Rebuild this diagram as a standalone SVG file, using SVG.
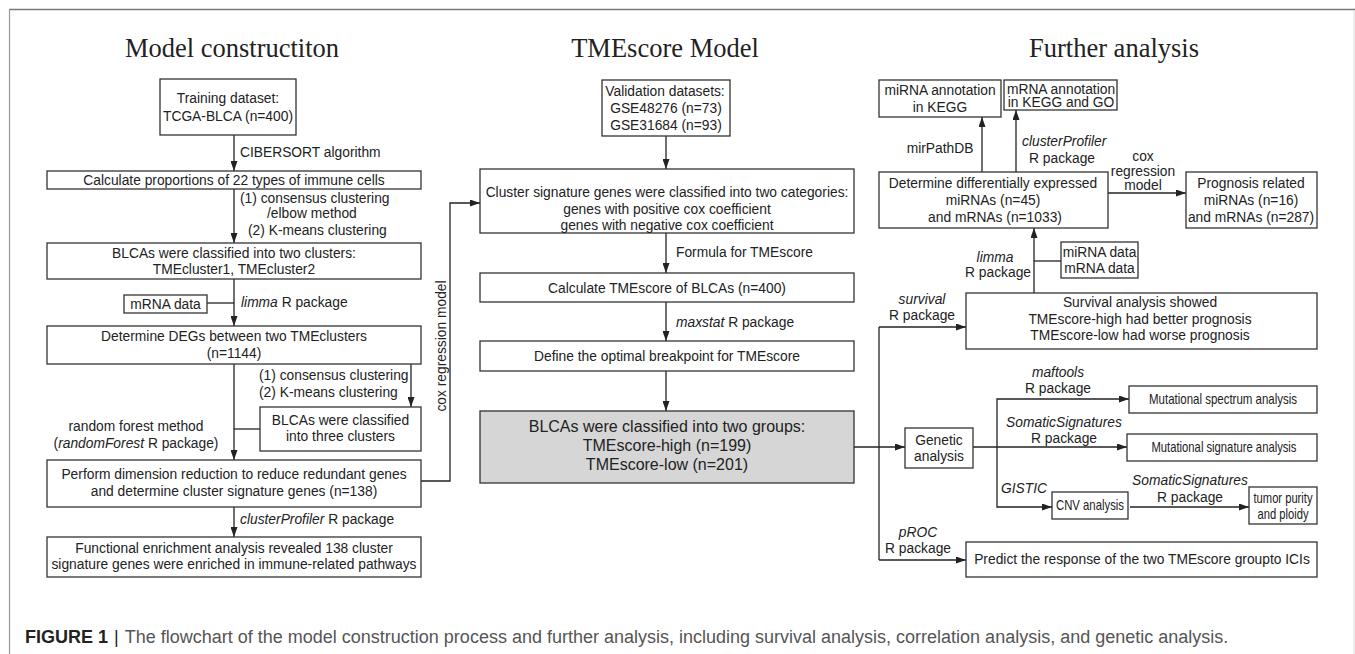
<svg xmlns="http://www.w3.org/2000/svg" width="1355" height="654" viewBox="0 0 1355 654">
<defs>
<marker id="ah" markerWidth="10" markerHeight="7" refX="10" refY="3.5" orient="auto" markerUnits="userSpaceOnUse">
<path d="M0,0 L10,3.5 L0,7 z" fill="#222"/>
</marker>
<style>
.box{fill:#fff;stroke:#333;stroke-width:1.3}
.gbox{fill:#d6d6d6;stroke:#333;stroke-width:1.3}
.t{font-family:"Liberation Sans",Arial,sans-serif;font-size:13.8px;fill:#222;text-anchor:middle}
.tl{font-family:"Liberation Sans",Arial,sans-serif;font-size:13.8px;fill:#222}
.i{font-style:italic}
.nar{font-family:"Liberation Sans Narrow","Liberation Sans",Arial,sans-serif;font-size:14.5px;fill:#222;text-anchor:middle}
.big{font-family:"Liberation Sans",Arial,sans-serif;font-size:16px;fill:#222;text-anchor:middle}
.ttl{font-family:"Liberation Serif","Times New Roman",serif;font-size:26.5px;fill:#222;text-anchor:middle}
.c{fill:none;stroke:#222;stroke-width:1.3}
.a{fill:none;stroke:#222;stroke-width:1.3;marker-end:url(#ah)}
.cap{font-family:"Liberation Sans",Arial,sans-serif;font-size:18px;fill:#555}
</style>
</defs>
<rect width="1355" height="654" fill="#fff"/>
<line x1="9" y1="9.5" x2="1355" y2="9.5" stroke="#777" stroke-width="1.5"/>
<line x1="9.5" y1="9" x2="9.5" y2="654" stroke="#999" stroke-width="1.2"/>
<line x1="1354" y1="10" x2="1354" y2="654" stroke="#ddd" stroke-width="1"/>

<text class="ttl" x="232" y="57">Model constructiton</text>
<text class="ttl" x="665" y="57">TMEscore Model</text>
<text class="ttl" x="1114" y="57">Further analysis</text>

<g id="connectors">
<path class="a" d="M234,135 V171"/>
<path class="a" d="M234,189 V243"/>
<path class="a" d="M234,279 V326"/>
<path class="c" d="M207,303 H234"/>
<path class="a" d="M234,364 V460"/>
<path class="a" d="M411,364 V407"/>
<path class="c" d="M260,429 H234"/>
<path class="a" d="M234,507 V537"/>
<path class="a" d="M421,481 H450 V203 H480"/>
<path class="a" d="M666,136 V169"/>
<path class="a" d="M666,233 V273"/>
<path class="a" d="M666,302 V341"/>
<path class="a" d="M666,371 V411"/>
<path class="a" d="M854,447 H905"/>
<path class="c" d="M879,327 V560"/>
<path class="a" d="M879,327 H966"/>
<path class="a" d="M879,560 H966"/>
<path class="a" d="M973,447 H1127"/>
<path class="a" d="M997,447 V399 H1129"/>
<path class="a" d="M997,447 V507 H1052"/>
<path class="a" d="M1130,507 H1249"/>
<path class="a" d="M1034,293 V228"/>
<path class="c" d="M1061,261 H1034"/>
<path class="a" d="M982,172 V117"/>
<path class="a" d="M1016,172 V110"/>
<path class="a" d="M1108,193 H1186"/>
</g>

<g id="labels">
<text class="tl" x="240" y="157">CIBERSORT algorithm</text>
<text class="tl" x="240" y="203">(1) consensus clustering</text>
<text class="tl" x="267" y="218">/elbow method</text>
<text class="tl" x="248" y="235">(2) K-means clustering</text>
<text class="tl" x="241" y="307"><tspan class="i">limma</tspan> R package</text>
<text class="tl" x="259" y="380">(1) consensus clustering</text>
<text class="tl" x="259" y="397">(2) K-means clustering</text>
<text class="t" x="136" y="431">random forest method</text>
<text class="t" x="136" y="448">(<tspan class="i">randomForest</tspan> R package)</text>
<text class="tl" x="240" y="524"><tspan class="i">clusterProfiler</tspan> R package</text>
<text class="t" transform="translate(446,346) rotate(-90)" x="0" y="0">cox regression model</text>
<text class="tl" x="676" y="257">Formula for TMEscore</text>
<text class="tl" x="676" y="327"><tspan class="i">maxstat</tspan> R package</text>
<text class="t" x="940" y="153">mirPathDB</text>
<text class="tl i" x="1022" y="146">clusterProfiler</text>
<text class="t" x="1062" y="163">R package</text>
<text class="t" x="1143" y="161">cox</text>
<text class="t" x="1143" y="176">regression</text>
<text class="t" x="1143" y="190">model</text>
<text class="t i" x="995" y="262">limma</text>
<text class="t" x="998" y="277">R package</text>
<text class="t i" x="922" y="304">survival</text>
<text class="t" x="922" y="320">R package</text>
<text class="t i" x="1058" y="377">maftools</text>
<text class="t" x="1058" y="393">R package</text>
<text class="t i" x="1064" y="427">SomaticSignatures</text>
<text class="t" x="1064" y="443">R package</text>
<text class="tl i" x="1001" y="493">GISTIC</text>
<text class="t i" x="1190" y="485">SomaticSignatures</text>
<text class="t" x="1190" y="502">R package</text>
<text class="t i" x="918" y="537">pROC</text>
<text class="t" x="918" y="553">R package</text>
</g>

<g id="n-training"><rect class="box" x="160" y="79" width="136" height="56"/>
<text class="t" x="228" y="103">Training dataset:</text><text class="t" x="228" y="121">TCGA-BLCA (n=400)</text></g>
<g id="n-calc"><rect class="box" x="47" y="171" width="374" height="18"/>
<text class="t" x="234" y="185">Calculate proportions of 22 types of immune cells</text></g>
<g id="n-two"><rect class="box" x="47" y="243" width="374" height="36"/>
<text class="t" x="234" y="258">BLCAs were classified into two clusters:</text><text class="t" x="234" y="274">TMEcluster1, TMEcluster2</text></g>
<g id="n-mrna"><rect class="box" x="124" y="295" width="83" height="18"/>
<text class="t" x="165.5" y="309">mRNA data</text></g>
<g id="n-degs"><rect class="box" x="47" y="326" width="374" height="38"/>
<text class="t" x="234" y="341">Determine DEGs between two TMEclusters</text><text class="t" x="234" y="358">(n=1144)</text></g>
<g id="n-three"><rect class="box" x="260" y="407" width="161" height="44"/>
<text class="t" x="340.5" y="425">BLCAs were classified</text><text class="t" x="340.5" y="441">into three clusters</text></g>
<g id="n-dim"><rect class="box" x="47" y="460" width="374" height="47"/>
<text class="t" x="234" y="479">Perform dimension reduction to reduce redundant genes</text><text class="t" x="234" y="496">and determine cluster signature genes (n=138)</text></g>
<g id="n-func"><rect class="box" x="47" y="537" width="374" height="40"/>
<text class="t" x="234" y="553">Functional enrichment analysis revealed 138 cluster</text><text class="t" x="234" y="569">signature genes were enriched in immune-related pathways</text></g>

<g id="n-valid"><rect class="box" x="602" y="80" width="128" height="56"/>
<text class="t" x="665" y="96">Validation datasets:</text><text class="t" x="666" y="113">GSE48276 (n=73)</text><text class="t" x="666" y="130">GSE31684 (n=93)</text></g>
<g id="n-cat"><rect class="box" x="480" y="169" width="374" height="64"/>
<text class="t" x="667" y="197">Cluster signature genes were classified into two categories:</text><text class="t" x="667" y="214">genes with positive cox coefficient</text><text class="t" x="667" y="230">genes with negative cox coefficient</text></g>
<g id="n-score"><rect class="box" x="480" y="273" width="374" height="29"/>
<text class="t" x="667" y="293">Calculate TMEscore of BLCAs (n=400)</text></g>
<g id="n-break"><rect class="box" x="480" y="341" width="374" height="30"/>
<text class="t" x="667" y="361">Define the optimal breakpoint for TMEscore</text></g>
<g id="n-groups"><rect class="gbox" x="480" y="411" width="374" height="72"/>
<text class="big" x="667" y="432">BLCAs were classified into two groups:</text><text class="big" x="667" y="451">TMEscore-high (n=199)</text><text class="big" x="667" y="470">TMEscore-low (n=201)</text></g>

<g id="n-mirkegg"><rect class="box" x="879" y="80" width="122" height="37"/>
<text class="t" x="940" y="95">miRNA annotation</text><text class="t" x="940" y="112">in KEGG</text></g>
<g id="n-mrnakegg"><rect class="box" x="1004" y="80" width="113" height="30"/>
<text class="t" x="1061" y="94">mRNA annotation</text><text class="t" x="1061" y="107">in KEGG and GO</text></g>
<g id="n-de"><rect class="box" x="879" y="172" width="229" height="56"/>
<text class="t" x="993" y="188">Determine differentially expressed</text><text class="t" x="993" y="205">miRNAs  (n=45)</text><text class="t" x="995" y="222">and mRNAs (n=1033)</text></g>
<g id="n-prog"><rect class="box" x="1186" y="172" width="131" height="56"/>
<text class="t" x="1251" y="188">Prognosis related</text><text class="t" x="1251" y="205">miRNAs (n=16)</text><text class="t" x="1251" y="222">and mRNAs (n=287)</text></g>
<g id="n-data"><rect class="box" x="1061" y="242" width="77" height="36"/>
<text class="t" x="1099.5" y="257">miRNA data</text><text class="t" x="1099.5" y="273">mRNA data</text></g>
<g id="n-surv"><rect class="box" x="966" y="293" width="351" height="56"/>
<text class="t" x="1140" y="307">Survival analysis showed</text><text class="t" x="1140" y="324">TMEscore-high had better prognosis</text><text class="t" x="1140" y="340">TMEscore-low had worse prognosis</text></g>
<g id="n-spec"><rect class="box" x="1129" y="386" width="188" height="27"/>
<text class="nar" x="1223" y="404" textLength="148" lengthAdjust="spacingAndGlyphs">Mutational spectrum  analysis</text></g>
<g id="n-genetic"><rect class="box" x="905" y="428" width="68" height="40"/>
<text class="t" x="939" y="445">Genetic</text><text class="t" x="939" y="461">analysis</text></g>
<g id="n-sig"><rect class="box" x="1127" y="434" width="190" height="27"/>
<text class="nar" x="1224" y="452" textLength="145" lengthAdjust="spacingAndGlyphs">Mutational signature analysis</text></g>
<g id="n-cnv"><rect class="box" x="1052" y="492" width="76" height="27"/>
<text class="nar" x="1090" y="510" textLength="68" lengthAdjust="spacingAndGlyphs">CNV analysis</text></g>
<g id="n-tumor"><rect class="box" x="1249" y="487" width="68" height="37"/>
<text class="nar" x="1283" y="503" textLength="59" lengthAdjust="spacingAndGlyphs">tumor purity</text><text class="nar" x="1283" y="519" textLength="51" lengthAdjust="spacingAndGlyphs">and ploidy</text></g>
<g id="n-predict"><rect class="box" x="966" y="542" width="351" height="35"/>
<text class="t" x="1142" y="564">Predict the response of the two TMEscore groupto ICIs</text></g>

<text class="cap" x="25" y="643"><tspan font-weight="bold" fill="#222">FIGURE 1</tspan><tspan dx="6" fill="#222">|</tspan><tspan dx="6">The flowchart of the model construction process and further analysis, including survival analysis, correlation analysis, and genetic analysis.</tspan></text>
</svg>
